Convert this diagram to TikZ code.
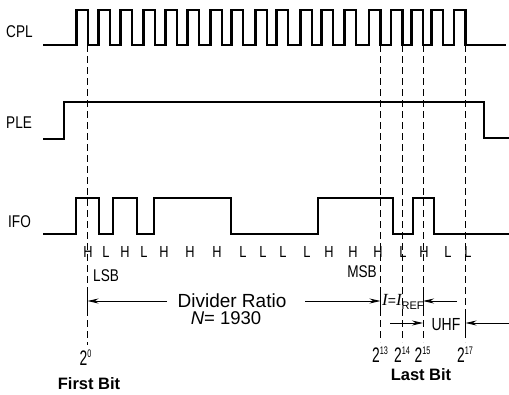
\documentclass[tikz,border=0pt]{standalone}
\usepackage{fontspec}
\setmainfont{Liberation Sans}
\newfontfamily\dinfont[FakeStretch=0.8]{Liberation Sans}
\newfontfamily\tallfont[FakeStretch=0.66]{Liberation Sans}
\newfontfamily\serifit{Liberation Serif}
\usetikzlibrary{arrows.meta}
\begin{document}
\begin{tikzpicture}[x=1pt,y=-1pt,
  wave/.style={line width=2.7pt, line join=miter, line cap=butt},
  guide/.style={line width=0.8pt, dash pattern=on 7pt off 4pt},
  dimarrow/.style={line width=0.9pt, -{Stealth[length=11pt,width=5pt]}},
  tickmark/.style={line width=1pt},
  siglabel/.style={inner sep=0pt, anchor=base west, font=\dinfont\fontsize{17}{17}\selectfont},
  bitlabel/.style={inner sep=0pt, anchor=base, font=\dinfont\fontsize{16}{16}\selectfont},
  txt/.style={inner sep=0pt, anchor=base, font=\fontsize{19}{21}\selectfont},
  bottomtxt/.style={inner sep=0pt, anchor=base, font=\bfseries\fontsize{16.5}{19}\selectfont},
  pow/.style={inner sep=0pt, anchor=base west, font=\tallfont\fontsize{21}{21}\selectfont},
  expo/.style={font=\fontsize{11}{11}\selectfont},
]
\useasboundingbox[fill=white] (0,0) rectangle (509,394);

% guide coordinates
\coordinate (g0t) at (87.5,45);   \coordinate (g0b) at (87.5,345);
\coordinate (g13t) at (380.5,45); \coordinate (g13b) at (380.5,342);
\coordinate (g14t) at (402.5,45); \coordinate (g14b) at (402.5,342);
\coordinate (g15t) at (423,45);   \coordinate (g15b) at (423,342);
\coordinate (g17t) at (465.5,45); \coordinate (g17b) at (465.5,342);

% dashed guide lines
\foreach \g in {g0,g13,g14,g15,g17}{
  \draw[guide] (\g t) -- (\g b);
}

% CPL clock
\draw[wave] (43,45)
  foreach \f in {88,110,132,155,177,199,222,243,267,288,312,333,356,380.5,402.5,423,443,465.5}{
    -- (\f-11.5,45) -- (\f-11.5,10) -- (\f,10) -- (\f,45)
  } -- (506,45);

% PLE
\draw[wave] (43,139) -- (64,139) -- (64,102) -- (484,102) -- (484,138) -- (509,138);

% IFO
\draw[wave] (43,234) -- (76,234) -- (76,198) -- (99,198) -- (99,234)
  -- (113,234) -- (113,198) -- (137,198) -- (137,234) -- (154,234)
  -- (154,198) -- (231,198) -- (231,234) -- (318,234) -- (318,198)
  -- (393,198) -- (393,234) -- (413,234) -- (413,198) -- (434,198)
  -- (434,234) -- (509,234);

% signal labels
\node[siglabel] (cpl) at (6,37) {CPL};
\node[siglabel] (ple) at (6,128) {PLE};
\node[siglabel] (ifo) at (8,227) {IFO};

% bit values
\foreach \x/\v [count=\i] in {88/H,106/L,125/H,144/L,164/H,190/H,217/H,243/L,263/L,283/L,307/L,329/H,353/H,378/H,403/L,424/H,448/L,468/L}{
  \node[bitlabel] (bit\i) at (\x,257) {\v};
}
\node[siglabel] (lsb) at (93,281) {LSB};
\node[siglabel, anchor=base east] (msb) at (377,277) {MSB};

% divider ratio
\node[txt] (divr) at (232,307) {Divider Ratio};
\node[txt, font=\fontsize{18.5}{20}\selectfont] (nval) at (226,324.5) {{\itshape N}= 1930};
\coordinate (dl) at (167,301);
\coordinate (dr) at (305,301);
\coordinate (a0) at (87.5,301);
\coordinate (a13) at (380.5,301);
\draw[dimarrow] (dl) -- (a0);
\draw[dimarrow] (dr) -- (a13);
\draw[tickmark] (87.5,291) -- (87.5,311);
\draw[tickmark] (380.5,291) -- (380.5,311);

% I = I_REF
\node[inner sep=0pt, anchor=base west] (iref) at (382,305)
  {{\serifit\itshape\fontsize{17}{17}\selectfont I}{\fontsize{14}{14}\selectfont =}{\serifit\itshape\fontsize{17}{17}\selectfont I}\raisebox{-4pt}{\fontsize{11}{11}\selectfont REF}};
\coordinate (ir) at (457,301);
\coordinate (a15) at (423,301);
\draw[dimarrow] (ir) -- (a15);
\draw[tickmark] (423,291) -- (423,311);

% UHF
\node[siglabel, anchor=base, font=\dinfont\fontsize{17.5}{17}\selectfont] (uhf) at (446,330) {UHF};
\coordinate (ul) at (390,323);
\coordinate (u15) at (423,323);
\coordinate (ur) at (509,323);
\coordinate (u17) at (465.5,323);
\draw[dimarrow] (ul) -- (u15);
\draw[dimarrow] (ur) -- (u17);
\draw[tickmark] (465.5,313) -- (465.5,333);

% powers of two
\node[pow] (p0) at (79.5,365) {2\raisebox{8pt}{\fontsize{11}{11}\selectfont 0}};
\node[pow] (p13) at (372,362) {2\raisebox{8pt}{\fontsize{11}{11}\selectfont 13}};
\node[pow] (p14) at (394,362) {2\raisebox{8pt}{\fontsize{11}{11}\selectfont 14}};
\node[pow] (p15) at (414.5,362) {2\raisebox{8pt}{\fontsize{11}{11}\selectfont 15}};
\node[pow] (p17) at (457,362) {2\raisebox{8pt}{\fontsize{11}{11}\selectfont 17}};

% bottom captions
\node[bottomtxt] (first) at (89,389) {First Bit};
\node[bottomtxt] (last) at (421,380) {Last Bit};
\end{tikzpicture}
\end{document}
